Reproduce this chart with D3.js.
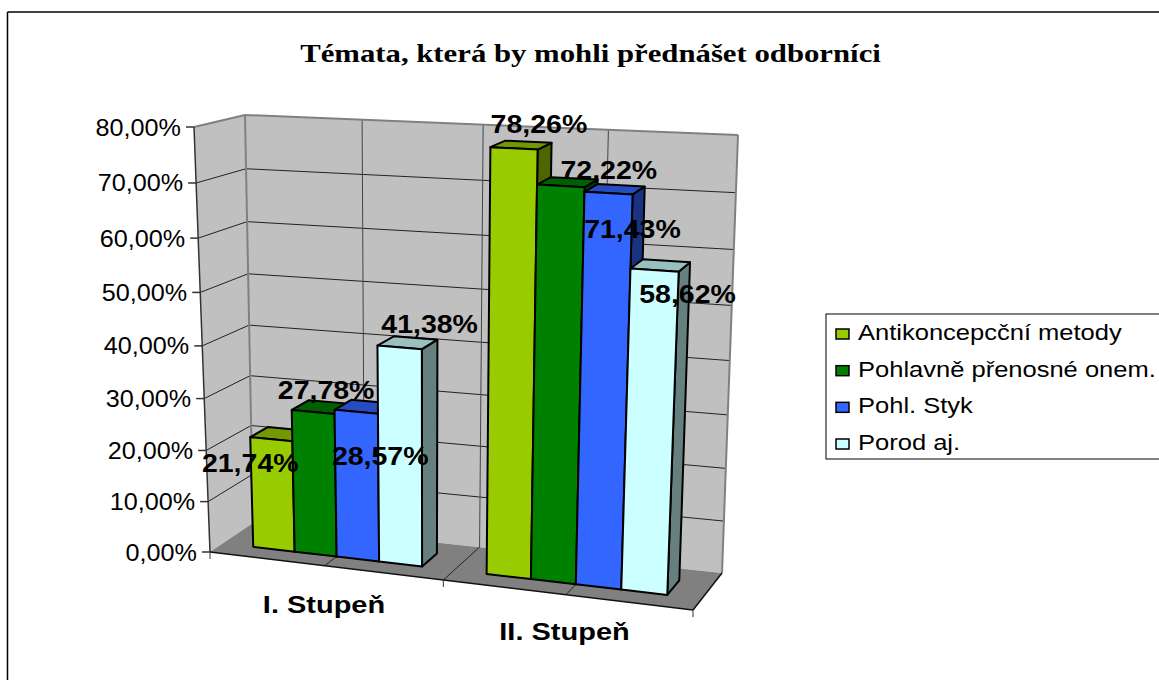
<!DOCTYPE html>
<html>
<head>
<meta charset="utf-8">
<script src="https://cdn.jsdelivr.net/npm/d3@7"></script>
<style>
html, body { margin: 0; padding: 0; background: #fff; overflow: hidden; }
svg { display: block; }
text { font-family: "Liberation Sans", Arial, sans-serif; fill: #000; }
</style>
</head>
<body>
<div id="viz"></div>
<script>
var title = "Témata, která by mohli přednášet odborníci";
var categories = ["I. Stupeň", "II. Stupeň"];
var seriesNames = ["Antikoncepcční metody", "Pohlavně přenosné onem.", "Pohl. Styk", "Porod aj."];
var antikoncepce = [21.74, 78.26];
var pohlavne = [27.78, 72.22];
var styk = [28.57, 71.43];
var porod = [41.38, 58.62];
var seriesValues = [antikoncepce, pohlavne, styk, porod];
var axisTicks = [0, 10, 20, 30, 40, 50, 60, 70, 80];

var frontColors = ["#99CC00", "#008000", "#3366FF", "#CCFFFF"];
var topColors = ["#739900", "#006000", "#264CBF", "#99BFBF"];
var sideColors = ["#4D6600", "#004000", "#1A3380", "#668080"];

// hand placed data labels, offset from top centre of the bar front [group][series]
var labelNudge = [
  [[-21, 33], [13, -13], [24, 53], [30, -14]],
  [[25, -15], [48, -7], [24, 45], [33, 33]]
];

var w = 1159, h = 680;
var svg = d3.select("#viz").append("svg").attr("width", w).attr("height", h);

// corners of the 3d box as they land on the picture
var floorFL = [210, 552], floorFR = [693, 610], floorBR = [722, 573], floorBL = [253, 523];
var topFL = [194, 127], topFR = [712, 154], topBR = [738, 135], topBL = [245, 115];

function mix(a, b, t) { return [a[0] + (b[0] - a[0]) * t, a[1] + (b[1] - a[1]) * t]; }
function warp(t, r) { return t / (t + (1 - t) * r); }

// u along categories, v up the value axis, d into the depth (all 0..1)
function project(u, v, d) {
  var uu = warp(u, 1.07), vv = warp(v, 1.062);
  var f = mix(mix(floorFL, floorFR, uu), mix(floorBL, floorBR, uu), d);
  var t = mix(mix(topFL, topFR, uu), mix(topBL, topBR, uu), d);
  return mix(f, t, vv);
}

var yScale = d3.scaleLinear().domain([0, 80]).range([0, 1]);
var xScale = d3.scaleBand().domain(categories).range([0, 1]).paddingInner(0.27).paddingOuter(0.135);
var seriesScale = d3.scaleBand().domain(seriesNames).range([0, xScale.bandwidth()]);
var depthScale = d3.scaleLinear().domain([0, 1]).range([0.3, 0.7]);

var line = d3.line();
function poly(pts, fill, stroke, sw) {
  return svg.append("path")
    .attr("d", line(pts) + "Z")
    .attr("fill", fill)
    .attr("stroke", stroke || "none")
    .attr("stroke-width", sw || 0)
    .attr("stroke-linejoin", "round");
}
function seg(a, b, color, sw) {
  svg.append("line")
    .attr("x1", a[0]).attr("y1", a[1])
    .attr("x2", b[0]).attr("y2", b[1])
    .attr("stroke", color).attr("stroke-width", sw);
}
function label(str, x, y, size, sx, anchor, weight, family) {
  var t = svg.append("text")
    .attr("transform", "translate(" + x + "," + y + ") scale(" + sx + ",1)")
    .attr("text-anchor", anchor)
    .style("font-size", size + "px")
    .style("font-weight", weight || "normal")
    .text(str);
  if (family) t.style("font-family", family);
  return t;
}

// chart frame, only the top and left edge show in the picture
seg([7.5, 12], [w, 12], "#000", 1.5);
seg([7.5, 12], [7.5, h], "#000", 1.5);

label(title, 590.5, 62, 25, 1.23, "middle", "bold", "'Liberation Serif', 'Times New Roman', serif");

// walls and floor
poly([project(0, 0, 0), project(0, 1, 0), project(0, 1, 1), project(0, 0, 1)], "#C0C0C0");
poly([project(0, 0, 1), project(0, 1, 1), project(1, 1, 1), project(1, 0, 1)], "#C0C0C0");
poly([project(0, 0, 0), project(1, 0, 0), project(1, 0, 1), project(0, 0, 1)], "#808080");

// grid on walls
axisTicks.forEach(function(t) {
  var v = yScale(t);
  if (t > 0 && t < 80) {
    seg(project(0, v, 0), project(0, v, 1), "#222", 1);
    seg(project(0, v, 1), project(1, v, 1), "#222", 1);
  }
});
[0.25, 0.5, 0.75].forEach(function(u) {
  seg(project(u, 0, 1), project(u, 1, 1), "#444", 1);
  seg(project(u, 0, 0), project(u, 0, 1), "#222", 1);
});

// wall edges
seg(project(0, 1, 0), project(0, 1, 1), "#808080", 2);
seg(project(0, 1, 1), project(1, 1, 1), "#808080", 2);
seg(project(1, 1, 1), project(1, 0, 1), "#808080", 2);
seg(project(0, 0, 1), project(0, 1, 1), "#808080", 2);
seg(project(0, 0, 0), project(0, 1, 0), "#333", 1.5);

// floor edges and ticks
seg(project(0, 0, 0), project(1, 0, 0), "#111", 1.5);
seg(project(1, 0, 0), project(1, 0, 1), "#111", 1.5);
[0, 0.5, 1].forEach(function(u) {
  var p = project(u, 0, 0);
  seg(p, [p[0], p[1] + 7], "#333", 1);
});

// value axis
axisTicks.forEach(function(t) {
  var p = project(0, yScale(t), 0);
  seg([p[0] - 8, p[1]], p, "#333", 1.5);
  label(d3.format(".2f")(t).replace(".", ",") + "%", p[0] - 13, p[1] + 8.5, 24, 1.05, "end");
});

// category labels
var catLabelPos = [[324, 613], [564.5, 640]];
categories.forEach(function(c, i) {
  label(c, catLabelPos[i][0], catLabelPos[i][1], 23, 1.26, "middle", "bold");
});

// bars
var labels = [];
categories.forEach(function(c, g) {
  seriesNames.forEach(function(s, i) {
    var u0 = xScale(c) + seriesScale(s);
    var u1 = u0 + seriesScale.bandwidth();
    var val = seriesValues[i][g];
    var v = yScale(val);
    var d0 = depthScale(0), d1 = depthScale(1);
    poly([project(u1, 0, d0), project(u1, v, d0), project(u1, v, d1), project(u1, 0, d1)], sideColors[i], "#000", 2);
    poly([project(u0, v, d0), project(u1, v, d0), project(u1, v, d1), project(u0, v, d1)], topColors[i], "#000", 2);
    poly([project(u0, 0, d0), project(u1, 0, d0), project(u1, v, d0), project(u0, v, d0)], frontColors[i], "#000", 2);
    var c0 = project((u0 + u1) / 2, v, d0);
    labels.push({
      text: d3.format(".2f")(val).replace(".", ",") + "%",
      x: c0[0] + labelNudge[g][i][0],
      y: c0[1] + labelNudge[g][i][1]
    });
  });
});
labels.forEach(function(d) {
  label(d.text, d.x, d.y, 25, 1.14, "middle", "bold");
});

// legend
svg.append("rect")
  .attr("x", 826).attr("y", 314).attr("width", 340).attr("height", 145)
  .attr("fill", "#fff").attr("stroke", "#000").attr("stroke-width", 1);
var legendY = d3.scalePoint().domain(seriesNames).range([334, 444]);
seriesNames.forEach(function(s, i) {
  var yy = legendY(s);
  svg.append("rect")
    .attr("x", 836).attr("y", yy - 5).attr("width", 13).attr("height", 10)
    .attr("fill", frontColors[i]).attr("stroke", "#000").attr("stroke-width", 1.5);
  label(s, 858, yy + 6, 22, 1.16, "start");
});
</script>
</body>
</html>
